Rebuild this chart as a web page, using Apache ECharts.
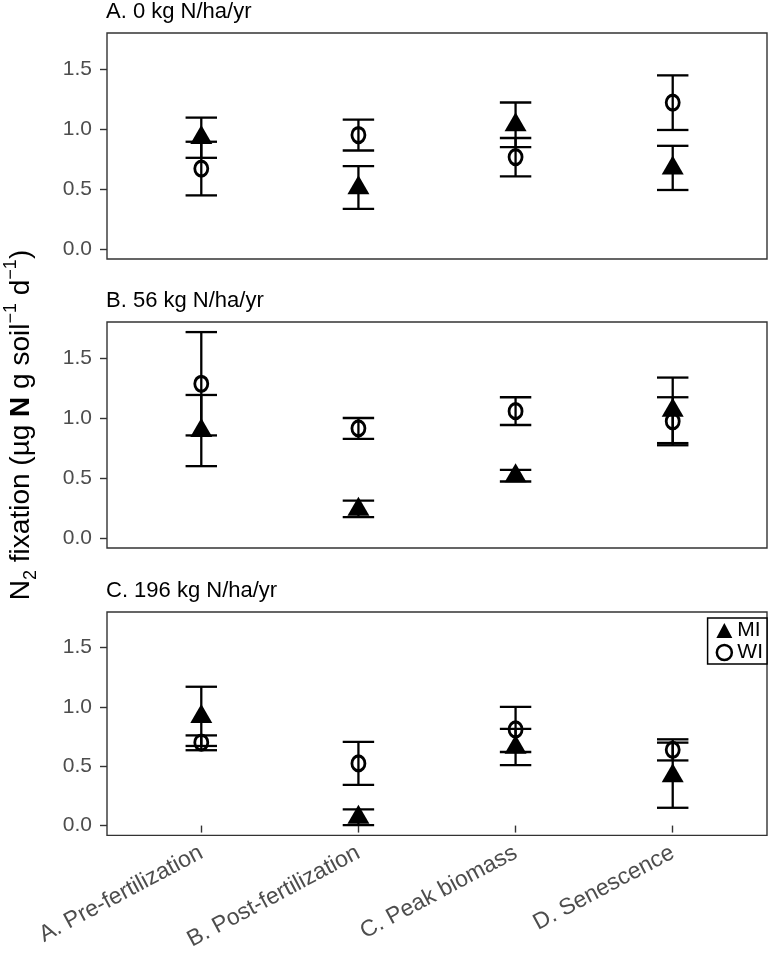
<!DOCTYPE html>
<html>
<head>
<meta charset="utf-8">
<script src="https://cdn.jsdelivr.net/npm/echarts@6/dist/echarts.min.js"></script>
<style>
  html, body { margin: 0; padding: 0; background: #fff; }
  #main { width: 769px; height: 953px; }
</style>
</head>
<body>
<div id="main"></div>
<script>
// growth stages on the x axis (positions 1..4)
const categories = ['A. Pre-fertilization', 'B. Post-fertilization', 'C. Peak biomass', 'D. Senescence'];
const panelTitles = ['A. 0 kg N/ha/yr', 'B. 56 kg N/ha/yr', 'C. 196 kg N/ha/yr'];
const yTicks = [0, 0.5, 1, 1.5];

// panel A, 0 kg N
const miMeanA = [0.93, 0.51, 1.035, 0.676];
const miLowA = [0.76, 0.335, 0.849, 0.492];
const miHighA = [1.095, 0.69, 1.221, 0.86];
const wiMeanA = [0.67, 0.95, 0.766, 1.22];
const wiLowA = [0.447, 0.821, 0.606, 0.992];
const wiHighA = [0.894, 1.078, 0.925, 1.447];

// panel B, 56 kg N
const miMeanB = [0.896, 0.24, 0.52, 1.064];
const miLowB = [0.599, 0.175, 0.471, 0.791];
const miHighB = [1.192, 0.312, 0.568, 1.337];
const wiMeanB = [1.285, 0.914, 1.057, 0.973];
const wiLowB = [0.855, 0.827, 0.942, 0.773];
const wiHighB = [1.716, 1.0, 1.173, 1.173];

// panel C, 196 kg N
const miMeanC = [0.92, 0.07, 0.66, 0.42];
const miLowC = [0.671, 0.003, 0.51, 0.15];
const miHighC = [1.17, 0.137, 0.815, 0.699];
const wiMeanC = [0.70, 0.524, 0.81, 0.638];
const wiLowC = [0.635, 0.343, 0.62, 0.549];
const wiHighC = [0.76, 0.705, 1.0, 0.727];

const panels = [
  { mi: [miMeanA, miLowA, miHighA], wi: [wiMeanA, wiLowA, wiHighA] },
  { mi: [miMeanB, miLowB, miHighB], wi: [wiMeanB, wiLowB, wiHighB] },
  { mi: [miMeanC, miLowC, miHighC], wi: [wiMeanC, wiLowC, wiHighC] }
];

const FONT = 'Liberation Sans';
const gridTops = [33, 322, 612];
const gridH = 226;
const xPos = [1, 2, 3, 4];

function errorBar(params, api) {
  const x = api.value(0), lo = api.value(1), hi = api.value(2);
  const top = api.coord([x, hi]), bot = api.coord([x, lo]);
  const tl = api.coord([x - 0.1, hi]), tr = api.coord([x + 0.1, hi]);
  const bl = api.coord([x - 0.1, lo]), br = api.coord([x + 0.1, lo]);
  const st = { stroke: '#000', lineWidth: 2.3 };
  return {
    type: 'group',
    children: [
      { type: 'line', shape: { x1: top[0], y1: top[1], x2: bot[0], y2: bot[1] }, style: st },
      { type: 'line', shape: { x1: tl[0], y1: tl[1], x2: tr[0], y2: tr[1] }, style: st },
      { type: 'line', shape: { x1: bl[0], y1: bl[1], x2: br[0], y2: br[1] }, style: st }
    ]
  };
}

const grids = [], xAxes = [], yAxes = [], titles = [], series = [];
panels.forEach(function (p, i) {
  const last = i === panels.length - 1;
  grids.push({
    left: 107, right: 2, top: gridTops[i], height: gridH,
    show: true, borderColor: '#333', borderWidth: 1.4, backgroundColor: '#fff'
  });
  titles.push({
    text: panelTitles[i], left: 106, top: gridTops[i] - 32, padding: 0,
    textStyle: { fontFamily: FONT, fontSize: 22, fontWeight: 'normal', color: '#000' }
  });
  xAxes.push({
    type: 'value', gridIndex: i, min: 0.4, max: 4.6,
    splitLine: { show: false },
    axisLine: { show: false },
    axisTick: { show: last, customValues: xPos, length: 7, lineStyle: { color: '#333', width: 1.4 } },
    axisLabel: {
      show: last, customValues: xPos, rotate: 28, margin: 16,
      fontFamily: FONT, fontSize: 23, color: '#4d4d4d',
      formatter: function (v) { return categories[Math.round(v) - 1]; }
    }
  });
  yAxes.push({
    type: 'value', gridIndex: i, min: -0.083, max: 1.8,
    splitLine: { show: false },
    axisLine: { show: false },
    axisTick: { show: true, customValues: yTicks, length: 7, lineStyle: { color: '#333', width: 1.4 } },
    axisLabel: {
      customValues: yTicks, margin: 15,
      fontFamily: FONT, fontSize: 21, color: '#4d4d4d',
      formatter: function (v) { return v.toFixed(1); }
    }
  });
  const miBars = xPos.map(function (x, k) { return [x, p.mi[1][k], p.mi[2][k]]; });
  const wiBars = xPos.map(function (x, k) { return [x, p.wi[1][k], p.wi[2][k]]; });
  series.push({
    type: 'custom', name: 'MI', xAxisIndex: i, yAxisIndex: i, itemStyle: { color: '#000' },
    renderItem: errorBar, encode: { x: 0, y: [1, 2] }, data: miBars, z: 2, silent: true
  });
  series.push({
    type: 'custom', name: 'WI', xAxisIndex: i, yAxisIndex: i, itemStyle: { color: '#000' },
    renderItem: errorBar, encode: { x: 0, y: [1, 2] }, data: wiBars, z: 2, silent: true
  });
  series.push({
    type: 'scatter', name: 'MI', xAxisIndex: i, yAxisIndex: i,
    symbol: 'triangle', symbolSize: [22, 19], symbolOffset: [0, -3],
    itemStyle: { color: '#000', opacity: 1 },
    data: xPos.map(function (x, k) { return [x, p.mi[0][k]]; }), z: 3
  });
  series.push({
    type: 'scatter', name: 'WI', xAxisIndex: i, yAxisIndex: i,
    symbol: 'circle', symbolSize: [13, 15],
    itemStyle: { color: 'rgba(0,0,0,0)', borderColor: '#000', borderWidth: 3, opacity: 1 },
    data: xPos.map(function (x, k) { return [x, p.wi[0][k]]; }), z: 3
  });
});

const chart = echarts.init(document.getElementById('main'), null, { renderer: 'canvas' });
chart.setOption({
  animation: false,
  backgroundColor: '#fff',
  title: titles,
  grid: grids,
  xAxis: xAxes,
  yAxis: yAxes,
  legend: {
    data: [
      { name: 'MI', icon: 'triangle', itemStyle: { color: '#000', borderWidth: 0 } },
      { name: 'WI', icon: 'circle', itemStyle: { color: 'rgba(0,0,0,0)', borderColor: '#000', borderWidth: 2.5 } }
    ],
    orient: 'vertical', right: 2, top: 618,
    itemWidth: 16, itemHeight: 15, itemGap: 1,
    padding: [2, 4, 1, 8],
    borderColor: '#000', borderWidth: 1.5,
    backgroundColor: '#fff',
    textStyle: { fontFamily: FONT, fontSize: 21, color: '#000', lineHeight: 17 }
  },
  graphic: [{
    type: 'text', x: 21, y: 425, rotation: Math.PI / 2,
    style: {
      text: '{n|N}{sub|2}{n| fixation (µg }{b|N}{n| g soil}{sup|−1}{n| d}{sup|−1}{n|)}',
      align: 'center', verticalAlign: 'middle',
      rich: {
        n: { fontFamily: FONT, fontSize: 28, color: '#000', lineHeight: 38, verticalAlign: 'middle' },
        b: { fontFamily: FONT, fontSize: 28, fontWeight: 'bold', color: '#000', lineHeight: 38, verticalAlign: 'middle' },
        sub: { fontFamily: FONT, fontSize: 18, color: '#000', lineHeight: 18, verticalAlign: 'bottom' },
        sup: { fontFamily: FONT, fontSize: 18, color: '#000', lineHeight: 18, verticalAlign: 'top' }
      }
    }
  }],
  series: series
});
</script>
</body>
</html>
